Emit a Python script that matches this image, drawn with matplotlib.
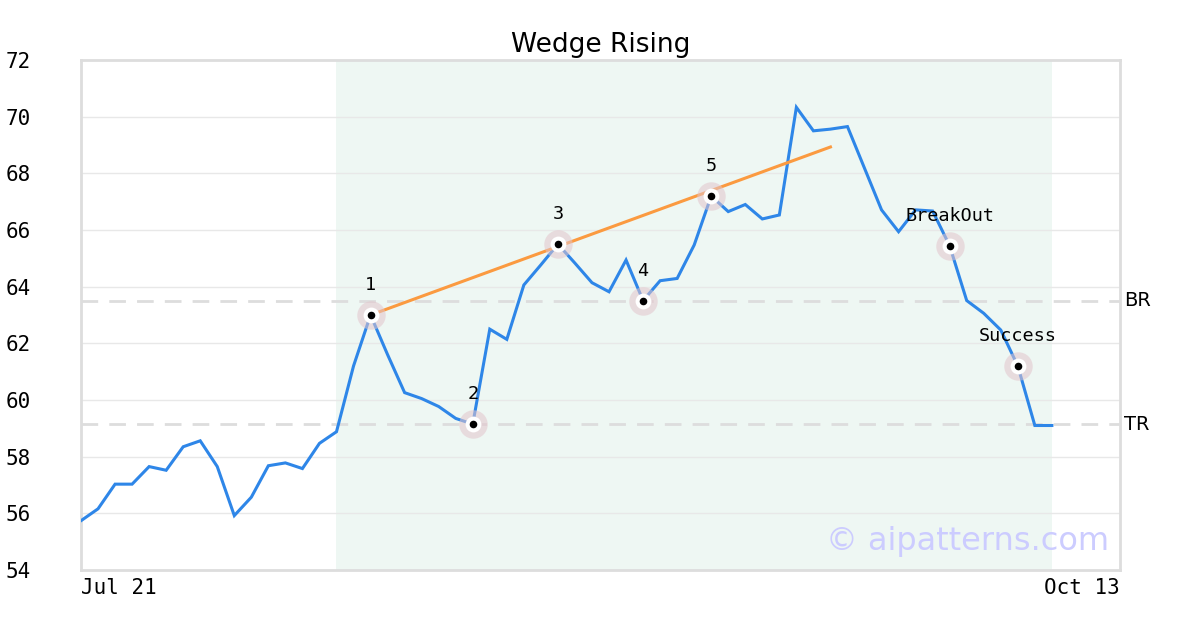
import matplotlib
matplotlib.use("Agg")
import matplotlib.pyplot as plt

# ---- data ----
title = "Wedge Rising"
x_labels = ["Jul 21", "Oct 13"]
prices = [55.74, 56.16, 57.03, 57.03, 57.65, 57.52, 58.35, 58.56, 57.65, 55.92,
          56.57, 57.68, 57.78, 57.58, 58.47, 58.88, 61.2, 63.0, 61.6, 60.26,
          60.05, 59.77, 59.35, 59.15, 62.5, 62.14, 64.06, 64.77, 65.5, 64.83,
          64.14, 63.82, 64.94, 63.51, 64.21, 64.29, 65.47, 67.2, 66.65, 66.9,
          66.39, 66.53, 70.33, 69.5, 69.56, 69.65, 68.18, 66.71, 65.94, 66.71,
          66.67, 65.44, 63.51, 63.06, 62.47, 61.2, 59.1, 59.1]
point_idx = [17, 23, 28, 33, 37, 51, 55]
point_labels = ["1", "2", "3", "4", "5", "BreakOut", "Success"]
trend_idx = [17, 44]
trend_vals = [63.0, 68.93]
level_vals = [63.5, 59.15]
level_labels = ["BR", "TR"]
shade_range = [15, 57]
y_ticks = [54, 56, 58, 60, 62, 64, 66, 68, 70, 72]
watermark = "© aipatterns.com"

# ---- figure ----
fig = plt.figure(figsize=(12, 6.3), dpi=100)
ax = fig.add_axes([81 / 1200, 60 / 630, 1039 / 1200, 510 / 630])

xs = list(range(len(prices)))
ax.set_xlim(0, 61.0)
ax.set_ylim(54, 72)

ax.axvspan(shade_range[0], shade_range[1], color="#eef7f3", zorder=0, lw=0)

for yt in y_ticks[1:-1]:
    ax.axhline(yt, color="#e8e8e8", lw=1, zorder=1)

for lv in level_vals:
    ax.axhline(lv, color="#dddddd", lw=2, ls=(0, (6, 4)), zorder=1)
for lv, lb in zip(level_vals, level_labels):
    ax.text(1.004, lv, lb, transform=ax.get_yaxis_transform(), ha="left",
            va="center", fontsize=14, color="black", family="DejaVu Sans")

ax.plot(xs, prices, color="#2e86e8", lw=2.2, zorder=3, solid_joinstyle="miter")
ax.plot(trend_idx, trend_vals, color="#fb9a40", lw=2.2, zorder=4)

px = [xs[i] for i in point_idx]
py = [prices[i] for i in point_idx]
ax.scatter(px, py, s=420, color="#e3c5cc", alpha=0.55, lw=0, zorder=5)
ax.scatter(px, py, s=130, color="white", lw=0, zorder=6)
ax.scatter(px, py, s=30, color="black", lw=0, zorder=7)
for x, y, lb in zip(px, py, point_labels):
    ax.annotate(lb, (x, y), xytext=(0, 21.5), textcoords="offset points",
                ha="center", va="center", fontsize=13.3,
                family="DejaVu Sans Mono", zorder=8)

ax.text(0.99, 0.055, watermark, transform=ax.transAxes, ha="right", va="center",
        fontsize=23, color="#ccccff", zorder=9)

ax.set_yticks(y_ticks)
ax.set_yticklabels([str(v) for v in y_ticks], family="DejaVu Sans Mono", fontsize=15)
ax.tick_params(axis="y", length=0, pad=36)
ax.set_xticks([0, 61.0])
ax.set_xticklabels(x_labels, family="DejaVu Sans Mono", fontsize=15)
ax.tick_params(axis="x", length=0, pad=6)
xt = ax.get_xticklabels()
xt[0].set_ha("left")
xt[1].set_ha("right")

for s in ax.spines.values():
    s.set_color("#dddddd")
    s.set_linewidth(2)

ax.set_title(title, fontsize=19, pad=6, family="DejaVu Sans")

fig.savefig("out.png", dpi=100)
